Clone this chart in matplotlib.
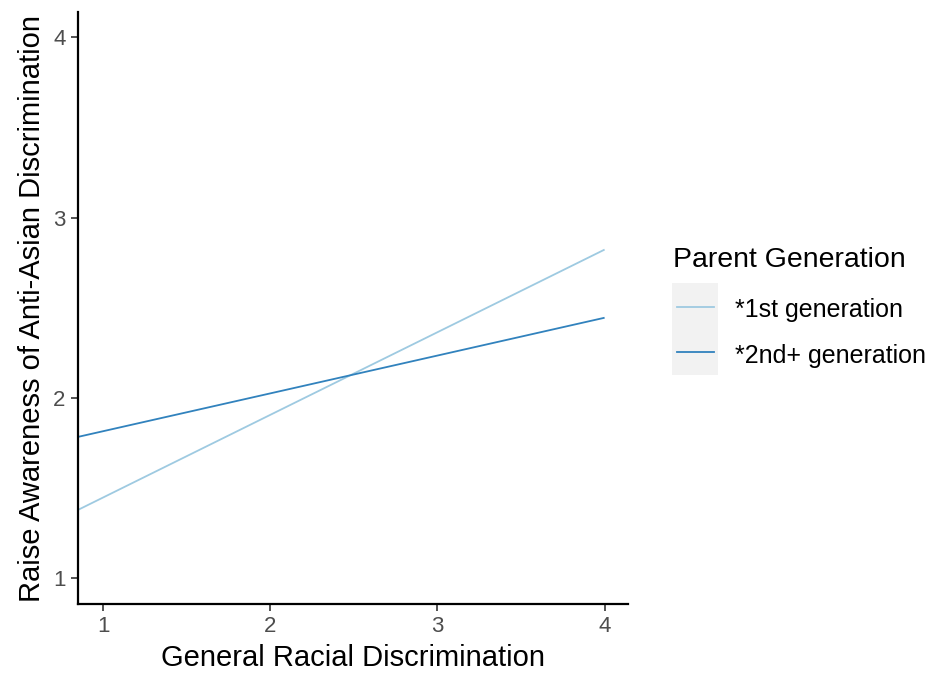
import matplotlib
matplotlib.use("Agg")
import matplotlib.pyplot as plt
from matplotlib.lines import Line2D
from matplotlib.patches import Rectangle

# Simple-slope lines of the moderation model
x_values = [0.85, 4.0]
first_gen = [1.378, 2.822]
second_gen = [1.783, 2.444]
series_labels = ["*1st generation", "*2nd+ generation"]
series_colors = ["#9ecae1", "#3182bd"]
x_ticks = [1, 2, 3, 4]
y_ticks = [1, 2, 3, 4]

W, H = 930, 687
plt.rcParams["font.family"] = ["Liberation Sans", "DejaVu Sans"]
fig = plt.figure(figsize=(W / 100, H / 100), dpi=100)

# axes box in pixels: left 78, right 628, top 12, bottom 604
ax = fig.add_axes([78 / W, 1 - 604 / H, 550 / W, 592 / H])

for ys, col in zip([first_gen, second_gen], series_colors):
    ax.plot(x_values, ys, color=col, lw=1.3, solid_capstyle="butt")

ax.set_xlim(0.85, 4.14)
ax.set_ylim(0.856, 4.14)
ax.set_xticks(x_ticks)
ax.set_yticks(y_ticks)
ax.set_xticklabels([str(t) for t in x_ticks])
ax.set_yticklabels([str(t) for t in y_ticks])

for side in ["top", "right"]:
    ax.spines[side].set_visible(False)
for side in ["left", "bottom"]:
    ax.spines[side].set_linewidth(1.6)
    ax.spines[side].set_color("black")

ax.tick_params(axis="both", length=5, width=1.2, color="#333333",
               labelsize=16, labelcolor="#4d4d4d", pad=4)

ax.set_xlabel("General Racial Discrimination", fontsize=21, color="black", labelpad=5)
ax.set_ylabel("Raise Awareness of Anti-Asian Discrimination", fontsize=21,
              color="black", labelpad=5)

# legend drawn in figure pixel coordinates
def fx(px):
    return px / W

def fy(py):
    return 1 - py / H

fig.text(fx(673), fy(267), "Parent Generation", fontsize=20.5, va="baseline",
         ha="left", color="black")
fig.add_artist(Rectangle((fx(672), fy(375)), fx(718) - fx(672), fy(283) - fy(375),
                         transform=fig.transFigure, facecolor="#f2f2f2",
                         edgecolor="none", zorder=0))
key_rows = [307, 352]
label_baselines = [317, 363]
for row, base, lab, col in zip(key_rows, label_baselines, series_labels, series_colors):
    fig.add_artist(Line2D([fx(677), fx(714)], [fy(row), fy(row)],
                          transform=fig.transFigure, color=col, lw=1.3))
    fig.text(fx(735), fy(base), lab, fontsize=18, va="baseline", ha="left",
             color="black")

fig.savefig("out.png", dpi=100, facecolor="white")
